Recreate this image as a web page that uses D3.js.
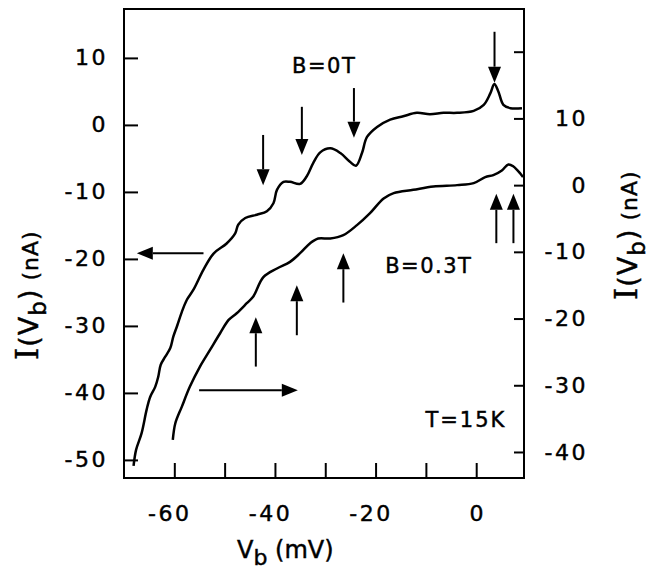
<!DOCTYPE html>
<html>
<head>
<meta charset="utf-8">
<script src="https://cdn.jsdelivr.net/npm/d3@7"></script>
<style>
  body { margin: 0; background: #fff; }
  text { font-family: "DejaVu Sans", sans-serif; fill: #000; stroke: #000; stroke-width: 0.45px; }
</style>
</head>
<body>
<svg width="650" height="569"></svg>
<script>
// B=0T trace, read against the left axis
var v0T = [-68.1, -67.6, -66.5, -65.5, -64.8, -63.8, -63.2, -62.7, -61.8, -60.8, -60.2, -59.4, -58.5, -57.5,
  -56.2, -54.2, -52.2, -49.6, -47.9, -47.3, -45.9, -43.6, -41.6, -40.3, -39.6, -38.3, -37.0, -35.0, -33.7,
  -32.4, -31.0, -29.0, -27.0, -25.1, -23.9, -22.7, -21.7, -19.7, -17.1, -14.5, -11.8, -9.2, -6.5, -3.8,
  -0.5, 1.5, 2.8, 3.6, 4.4, 5.4, 6.8, 9.1];
var i0T = [-50.9, -48.5, -46.0, -42.5, -40.6, -39.1, -37.6, -35.8, -34.6, -33.3, -31.6, -29.9, -27.9, -26.1,
  -24.6, -21.6, -19.2, -17.7, -16.2, -14.9, -13.9, -13.4, -12.9, -11.7, -9.7, -8.5, -8.5, -8.8, -7.7,
  -5.7, -4.1, -3.5, -4.2, -5.5, -6.1, -4.2, -1.8, -0.3, 0.8, 1.3, 1.8, 1.6, 1.8, 1.8,
  2.1, 3.0, 4.7, 6.1, 5.0, 3.0, 2.5, 2.5];

// B=0.3T trace, read against the right axis
var v03T = [-60.3, -59.8, -58.5, -56.9, -54.9, -52.9, -50.9, -49.2, -47.6, -45.6, -44.3, -42.3, -39.6, -37.0,
  -35.0, -33.0, -31.4, -29.0, -26.4, -23.7, -21.1, -18.4, -16.4, -12.5, -8.5, -3.8, -0.5, 1.8, 3.4, 5.1,
  6.4, 7.4, 8.8, 9.3];
var i03T = [-38.2, -35.7, -33.2, -30.2, -27.2, -24.7, -22.2, -20.2, -19.2, -17.7, -16.7, -13.8, -12.5, -11.5,
  -10.2, -8.7, -8.0, -8.0, -7.5, -6.0, -4.2, -2.0, -1.2, -0.7, -0.2, 0.0, 0.3, 1.2, 1.5, 2.2,
  3.1, 2.8, 1.7, 1.2];

// arrows: [Vb, I start, I tip]
var downArrows = [[-42.35, -1.5, -9.0], [-34.65, 2.7, -4.5], [-24.3, 5.5, -1.9], [3.64, 13.9, 6.3]];
var upArrows = [[-43.8, -27.2, -19.8], [-35.65, -22.5, -15.0], [-26.4, -17.6, -10.2], [4.0, -8.7, -1.3], [7.4, -8.7, -1.3]];
var leftArrow = {y: -19.15, from: -54.2, to: -67.45};
var rightArrow = {y: -30.73, from: -55.07, to: -35.45};

var leftTicks = [-50, -40, -30, -20, -10, 0, 10];
var rightTicks = [-40, -30, -20, -10, 0, 10, 20];
var xTicks = [-60, -50, -40, -30, -20, -10, 0];

var svg = d3.select("svg");

var x = d3.scaleLinear().domain([-70, 9.5]).range([124, 524]);
var yL = d3.scaleLinear().domain([-52.7, 17.3]).range([478, 9]);
var yR = d3.scaleLinear().domain([-43.9, 26.4]).range([478, 9]);

// frame
svg.append("rect")
  .attr("x", 124).attr("y", 9)
  .attr("width", 400).attr("height", 469)
  .attr("fill", "none").attr("stroke", "#000").attr("stroke-width", 2);

var gl = svg.append("g").attr("transform", "translate(124,0)")
  .call(d3.axisLeft(yL).tickValues(leftTicks).tickSize(-14).tickPadding(16)
    .tickFormat(function(d) { return String(d); }));
var gr = svg.append("g").attr("transform", "translate(524,0)")
  .call(d3.axisRight(yR).tickValues(rightTicks).tickSize(-10)
    .tickFormat(function(d) { return d == 20 ? "" : String(d); }));
var gb = svg.append("g").attr("transform", "translate(0,478)")
  .call(d3.axisBottom(x).tickValues(xTicks).tickSize(-15).tickPadding(27)
    .tickFormat(function(d) { return d % 20 == 0 ? String(d) : ""; }));

[gl, gr, gb].forEach(function(g) {
  g.select(".domain").remove();
  g.selectAll(".tick line").attr("stroke", "#000").attr("stroke-width", 2);
  g.selectAll(".tick text").attr("font-size", 22).attr("letter-spacing", 2.5)
    .attr("font-family", "DejaVu Sans").attr("fill", "#000");
});
gr.selectAll(".tick text").attr("text-anchor", "end").attr("x", 64);
gb.selectAll(".tick text").attr("dx", function(d) { return d < 0 ? -5 : 1; });

// curves
var line0 = d3.line().x(function(d) { return x(d[0]); }).y(function(d) { return yL(d[1]); })
  .curve(d3.curveCatmullRom);
var line3 = d3.line().x(function(d) { return x(d[0]); }).y(function(d) { return yR(d[1]); })
  .curve(d3.curveCatmullRom);

svg.append("path").datum(d3.zip(v0T, i0T))
  .attr("d", line0).attr("fill", "none").attr("stroke", "#000").attr("stroke-width", 2.5)
  .attr("stroke-linejoin", "round");
svg.append("path").datum(d3.zip(v03T, i03T))
  .attr("d", line3).attr("fill", "none").attr("stroke", "#000").attr("stroke-width", 2.5)
  .attr("stroke-linejoin", "round");

// arrows
function arrow(x1, y1, x2, y2) {
  var dx = x2 - x1, dy = y2 - y1, len = Math.sqrt(dx * dx + dy * dy);
  var ux = dx / len, uy = dy / len, hl = 16, hw = 6.5;
  var bx = x2 - ux * hl, by = y2 - uy * hl;
  svg.append("line")
    .attr("x1", x1).attr("y1", y1).attr("x2", bx).attr("y2", by)
    .attr("stroke", "#000").attr("stroke-width", 2);
  svg.append("path")
    .attr("d", "M" + x2 + "," + y2 + "L" + (bx - uy * hw) + "," + (by + ux * hw) +
      "L" + (bx + uy * hw) + "," + (by - ux * hw) + "Z")
    .attr("fill", "#000");
}
downArrows.forEach(function(a) { arrow(x(a[0]), yL(a[1]), x(a[0]), yL(a[2])); });
upArrows.forEach(function(a) { arrow(x(a[0]), yR(a[1]), x(a[0]), yR(a[2])); });
arrow(x(leftArrow.from), yL(leftArrow.y), x(leftArrow.to), yL(leftArrow.y));
arrow(x(rightArrow.from), yR(rightArrow.y), x(rightArrow.to), yR(rightArrow.y));

// labels in the plot
svg.append("text").attr("x", x(-36.6)).attr("y", yL(7.76))
  .attr("font-size", 21).attr("letter-spacing", 1.5).text("B=0T");
svg.append("text").attr("x", x(-18.1)).attr("y", yR(-13.2))
  .attr("font-size", 21).attr("letter-spacing", 1.5).text("B=0.3T");
svg.append("text").attr("x", x(-10.1)).attr("y", yR(-36.3))
  .attr("font-size", 21).attr("letter-spacing", 2).text("T=15K");

// x title
var xt = svg.append("text").attr("x", 237).attr("y", 558).attr("font-size", 24);
xt.append("tspan").text("V");
xt.append("tspan").attr("dy", 7).attr("font-size", 22).text("b");
xt.append("tspan").attr("dy", -7).text(" (mV)");

// y titles
function yTitle(tx, ty) {
  var t = svg.append("text").attr("transform", "translate(" + tx + "," + ty + ") rotate(-90)")
    .attr("font-size", 27).attr("letter-spacing", 1);
  t.append("tspan").attr("font-family", "DejaVu Serif").attr("font-size", 31).text("I");
  t.append("tspan").text("(V");
  t.append("tspan").attr("dy", 8).attr("font-size", 23).text("b");
  t.append("tspan").attr("dy", -8).text(")");
  t.append("tspan").attr("font-size", 22).text(" (nA)");
}
yTitle(38, 360);
yTitle(637, 300);
</script>
</body>
</html>
